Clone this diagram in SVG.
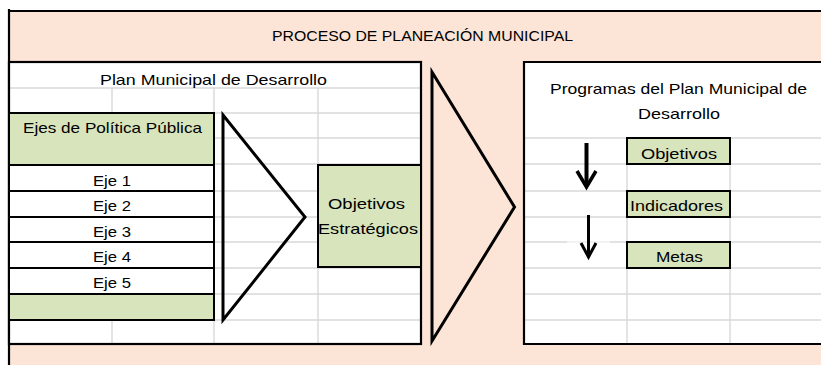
<svg xmlns="http://www.w3.org/2000/svg" width="821" height="365" viewBox="0 0 821 365">
<defs>
<style>
.peach{fill:#FCE4D6}
.green{fill:#D8E4BC;stroke:#000;stroke-width:2}
.cell{fill:#FFFFFF;stroke:#000;stroke-width:2}
.grid{stroke:#D9D9D9;stroke-width:1.4;fill:none}
.border{stroke:#000;stroke-width:2.2;fill:none}
.tri{fill:none;stroke:#000;stroke-width:3;stroke-linejoin:miter}
.arr{stroke:#000;fill:none;stroke-linecap:butt}
text{font-family:"Liberation Sans",Arial,sans-serif;font-size:15px;fill:#000}
</style>
</defs>
<rect x="0" y="0" width="821" height="365" fill="#FFFFFF"/>
<g id="frame">
<rect class="peach" x="9" y="11" width="812" height="354"/>
<line class="border" x1="9" y1="11" x2="821" y2="11"/>
<line class="border" x1="9" y1="9" x2="9" y2="365"/>
</g>
<g id="title">
<text x="272" y="41" textLength="301" lengthAdjust="spacingAndGlyphs">PROCESO DE PLANEACIÓN MUNICIPAL</text>
</g>
<g id="plan-municipal">
<rect x="9" y="62" width="412" height="282" fill="#FFFFFF"/>
<g class="grid">
<line x1="9" y1="88" x2="421" y2="88"/>
<line x1="9" y1="113" x2="421" y2="113"/>
<line x1="214" y1="138" x2="421" y2="138"/>
<line x1="214" y1="164" x2="421" y2="164"/>
<line x1="214" y1="191" x2="421" y2="191"/>
<line x1="214" y1="217" x2="421" y2="217"/>
<line x1="214" y1="242" x2="421" y2="242"/>
<line x1="214" y1="268" x2="421" y2="268"/>
<line x1="214" y1="294" x2="421" y2="294"/>
<line x1="9" y1="320" x2="421" y2="320"/>
<line x1="112" y1="88" x2="112" y2="344"/>
<line x1="214" y1="88" x2="214" y2="344"/>
<line x1="318" y1="88" x2="318" y2="344"/>
</g>
<rect class="border" x="9" y="62" width="412" height="282"/>
<text x="100" y="85" textLength="227" lengthAdjust="spacingAndGlyphs">Plan Municipal de Desarrollo</text>
</g>
<g id="ejes-header">
<rect class="green" x="9" y="113" width="205" height="52"/>
<text x="23" y="132.5" textLength="179" lengthAdjust="spacingAndGlyphs">Ejes de Política Pública</text>
</g>
<g id="eje1">
<rect class="cell" x="9" y="165" width="205" height="26"/>
<text x="93" y="185.5" textLength="38" lengthAdjust="spacingAndGlyphs">Eje 1</text>
</g>
<g id="eje2">
<rect class="cell" x="9" y="191" width="205" height="26"/>
<text x="93" y="211" textLength="38" lengthAdjust="spacingAndGlyphs">Eje 2</text>
</g>
<g id="eje3">
<rect class="cell" x="9" y="217" width="205" height="25"/>
<text x="93" y="236.5" textLength="38" lengthAdjust="spacingAndGlyphs">Eje 3</text>
</g>
<g id="eje4">
<rect class="cell" x="9" y="242" width="205" height="26"/>
<text x="93" y="262" textLength="38" lengthAdjust="spacingAndGlyphs">Eje 4</text>
</g>
<g id="eje5">
<rect class="cell" x="9" y="268" width="205" height="26"/>
<text x="93" y="288" textLength="38" lengthAdjust="spacingAndGlyphs">Eje 5</text>
</g>
<g id="eje-empty">
<rect class="green" x="9" y="294" width="205" height="26"/>
</g>
<g id="objetivos-estrategicos">
<rect class="green" x="318" y="165" width="103" height="102"/>
<text x="328" y="209" textLength="77" lengthAdjust="spacingAndGlyphs">Objetivos</text>
<text x="318" y="234" textLength="100" lengthAdjust="spacingAndGlyphs">Estratégicos</text>
</g>
<g id="chevron-small">
<polygon class="tri" points="223,115 305,217 223,320"/>
</g>
<g id="chevron-large">
<polygon class="tri" points="432,72 514.5,207 432,341"/>
</g>
<g id="programas">
<rect x="524" y="62" width="297" height="282" fill="#FFFFFF"/>
<g class="grid">
<line x1="524" y1="138" x2="821" y2="138"/>
<line x1="524" y1="164" x2="821" y2="164"/>
<line x1="524" y1="191" x2="821" y2="191"/>
<line x1="524" y1="217" x2="821" y2="217"/>
<line x1="524" y1="242" x2="567" y2="242"/>
<line x1="610" y1="242" x2="821" y2="242"/>
<line x1="524" y1="268" x2="821" y2="268"/>
<line x1="524" y1="294" x2="821" y2="294"/>
<line x1="524" y1="320" x2="821" y2="320"/>
<line x1="627" y1="138" x2="627" y2="344"/>
<line x1="730" y1="138" x2="730" y2="344"/>
</g>
<line x1="567" y1="242" x2="610" y2="242" stroke="#EEEEEE" stroke-width="1.4"/>
<polyline class="border" points="821,62 524,62 524,344 821,344"/>
<text x="550" y="94" textLength="257" lengthAdjust="spacingAndGlyphs">Programas del Plan Municipal de</text>
<text x="638" y="119" textLength="82" lengthAdjust="spacingAndGlyphs">Desarrollo</text>
</g>
<g id="objetivos">
<rect class="green" x="627" y="138" width="103" height="26"/>
<text x="641" y="159" textLength="76" lengthAdjust="spacingAndGlyphs">Objetivos</text>
</g>
<g id="indicadores">
<rect class="green" x="627" y="191" width="103" height="26"/>
<text x="630" y="211" textLength="93" lengthAdjust="spacingAndGlyphs">Indicadores</text>
</g>
<g id="metas">
<rect class="green" x="627" y="242" width="103" height="26"/>
<text x="656" y="262" textLength="47" lengthAdjust="spacingAndGlyphs">Metas</text>
</g>
<g id="connectors">
<line class="arr" x1="586.5" y1="143" x2="586.5" y2="185" stroke-width="4"/>
<polyline class="arr" points="577,171 586.5,187 596,171" stroke-width="3.5"/>
<line class="arr" x1="588.5" y1="215" x2="588.5" y2="256" stroke-width="3"/>
<polyline class="arr" points="581,243 588.5,257 596,243" stroke-width="3"/>
</g>
</svg>
